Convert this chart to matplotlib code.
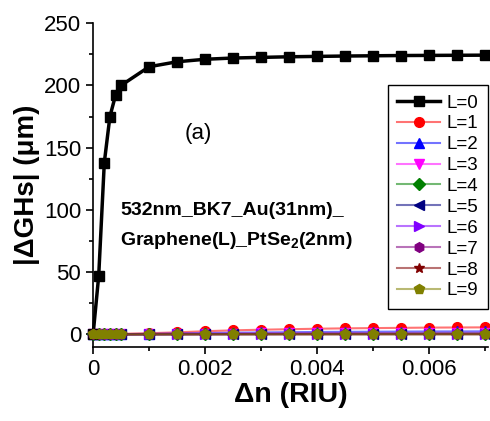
import matplotlib
matplotlib.use("Agg")
import matplotlib.pyplot as plt
from matplotlib.ticker import MultipleLocator
from matplotlib.colors import to_rgba

plt.rcParams['font.family'] = ['Liberation Sans', 'DejaVu Sans']
plt.rcParams['mathtext.fontset'] = 'custom'
plt.rcParams['mathtext.rm'] = 'Liberation Sans'
plt.rcParams['mathtext.bf'] = 'Liberation Sans:bold'

dn = [0, 0.0001, 0.0002, 0.0003, 0.0004, 0.0005, 0.001, 0.0015, 0.002, 0.0025,
      0.003, 0.0035, 0.004, 0.0045, 0.005, 0.0055, 0.006, 0.0065, 0.007]

L0 = [0, 47, 138, 175, 192, 200, 215, 219, 221, 222, 222.5, 223, 223.3, 223.6,
      223.8, 224, 224.1, 224.2, 224.3]
L1 = [0, 0.1, 0.2, 0.3, 0.4, 0.5, 1.0, 1.7, 2.6, 3.3, 3.8, 4.2, 4.6, 4.9, 5.1,
      5.3, 5.5, 5.6, 5.7]
L2 = [0, 0.05, 0.1, 0.15, 0.2, 0.25, 0.5, 0.8, 1.1, 1.4, 1.6, 1.8, 2.0, 2.1,
      2.2, 2.3, 2.4, 2.45, 2.5]
L3 = [0, 0.03, 0.06, 0.09, 0.12, 0.15, 0.3, 0.45, 0.6, 0.7, 0.8, 0.9, 1.0, 1.05,
      1.1, 1.15, 1.2, 1.22, 1.25]
L4 = [0, 0.02, 0.04, 0.06, 0.08, 0.1, 0.2, 0.3, 0.4, 0.45, 0.5, 0.55, 0.6, 0.63,
      0.66, 0.69, 0.72, 0.74, 0.76]
L5 = [0, 0.01, 0.03, 0.04, 0.05, 0.07, 0.13, 0.2, 0.26, 0.3, 0.34, 0.38, 0.41,
      0.43, 0.45, 0.47, 0.49, 0.5, 0.51]
L6 = [0, 0.01, 0.02, 0.03, 0.04, 0.05, 0.1, 0.14, 0.18, 0.21, 0.24, 0.26, 0.28,
      0.3, 0.31, 0.32, 0.33, 0.34, 0.35]
L7 = [0, 0.01, 0.01, 0.02, 0.03, 0.03, 0.07, 0.1, 0.13, 0.15, 0.17, 0.19, 0.2,
      0.21, 0.22, 0.23, 0.24, 0.25, 0.25]
L8 = [0, 0.0, 0.01, 0.01, 0.02, 0.02, 0.05, 0.07, 0.09, 0.11, 0.12, 0.13, 0.14,
      0.15, 0.16, 0.17, 0.17, 0.18, 0.18]
L9 = [0, 0.0, 0.01, 0.01, 0.01, 0.02, 0.04, 0.05, 0.07, 0.08, 0.09, 0.1, 0.1,
      0.11, 0.12, 0.12, 0.13, 0.13, 0.14]

series = [L0, L1, L2, L3, L4, L5, L6, L7, L8, L9]
labels = ["L=%d" % i for i in range(10)]
colors = ['#000000', '#ff0000', '#0000ff', '#ff00ff', '#008000', '#000080',
          '#8000ff', '#800080', '#800000', '#808000']
markers = ['s', 'o', '^', 'v', 'D', '<', '>', 'h', '*', 'p']

fig = plt.figure(figsize=(4.9, 4.21), dpi=100)
ax = fig.add_axes([0.19, 0.176, 0.806, 0.769])

for i, (ys, lab, c, m) in enumerate(zip(series, labels, colors, markers)):
    if i == 0:
        ax.plot(dn, ys, color=c, lw=2.5, marker=m, ms=7.5, label=lab,
                zorder=10, clip_on=False)
    else:
        lc = to_rgba(c, 0.55)
        ax.plot(dn, ys, color=lc, lw=1.5, marker=m, ms=7 if m != 'D' else 6,
                mfc=c, mec=c, label=lab, zorder=3 + i, clip_on=False)

ax.set_xlim(0, 0.00705)
ax.set_ylim(-10, 250)
ax.xaxis.set_major_locator(MultipleLocator(0.002))
ax.xaxis.set_minor_locator(MultipleLocator(0.001))
ax.yaxis.set_major_locator(MultipleLocator(50))
ax.yaxis.set_minor_locator(MultipleLocator(25))
ax.set_xticklabels(['0' if abs(t) < 1e-12 else ('%.3f' % t) for t in ax.get_xticks()])
ax.tick_params(which='major', direction='out', length=5, width=1.2, labelsize=16)
ax.tick_params(which='minor', direction='out', length=3, width=1.2)
ax.spines['top'].set_visible(False)
ax.spines['right'].set_visible(False)
ax.spines['left'].set_linewidth(1.2)
ax.spines['bottom'].set_linewidth(1.2)

ax.set_xlabel("Δn (RIU)", fontsize=20.5, fontweight='bold', labelpad=2)
ax.set_ylabel("|ΔGHs| (μm)", fontsize=20, fontweight='bold', labelpad=3)

ax.text(0.00164, 157, "(a)", fontsize=16)
ax.text(0.00048, 96, "532nm_BK7_Au(31nm)_", fontsize=14, fontweight='bold')
ax.text(0.00048, 72, "Graphene(L)_PtSe$_\\mathbf{2}$(2nm)", fontsize=14, fontweight='bold')

leg = ax.legend(loc='upper right', bbox_to_anchor=(0.996, 0.798),
                bbox_transform=fig.transFigure, fontsize=13.5,
                frameon=True, fancybox=False, edgecolor='black', framealpha=1,
                handlelength=2.3, labelspacing=0.2, borderpad=0.5,
                handletextpad=0.35, borderaxespad=0)
leg.get_frame().set_linewidth(1.0)

fig.savefig("out.png", dpi=100)
